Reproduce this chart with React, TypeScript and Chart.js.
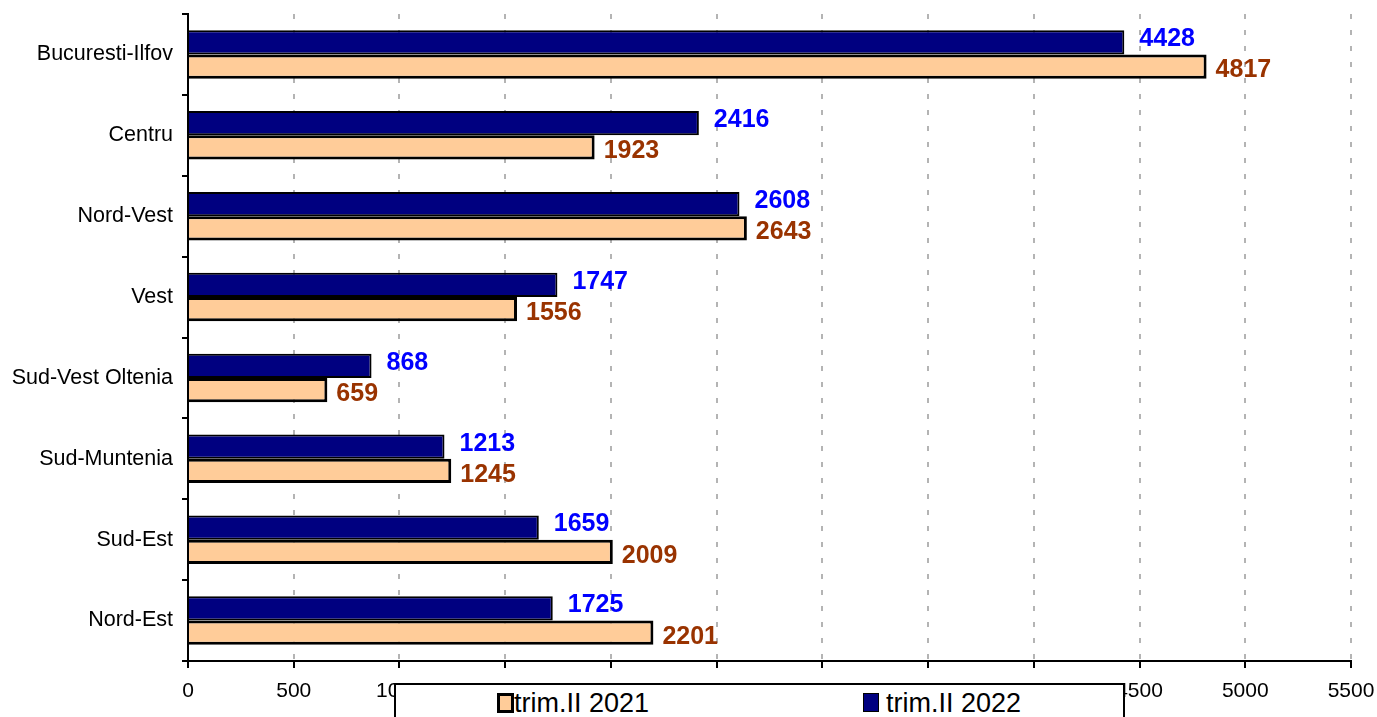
import React, { useEffect, useRef } from "react";
import { Chart, registerables } from "chart.js";
Chart.register(...registerables);

const categories = [
  "Bucuresti-Ilfov",
  "Centru",
  "Nord-Vest",
  "Vest",
  "Sud-Vest Oltenia",
  "Sud-Muntenia",
  "Sud-Est",
  "Nord-Est",
];
const values2022 = [4428, 2416, 2608, 1747, 868, 1213, 1659, 1725];
const values2021 = [4817, 1923, 2643, 1556, 659, 1245, 2009, 2201];
const seriesLabels = ["trim.II 2021", "trim.II 2022"];
const xMin = 0;
const xMax = 5500;
const xStep = 500;

const FONT = '"Liberation Sans", Arial, sans-serif';

const valueLabels = {
  id: "valueLabels",
  afterDatasetsDraw(chart: any) {
    const ctx = chart.ctx;
    chart.data.datasets.forEach((ds: any, i: number) => {
      const meta = chart.getDatasetMeta(i);
      ctx.save();
      ctx.font = `bold 25px ${FONT}`;
      ctx.fillStyle = ds.labelColor;
      ctx.textBaseline = "middle";
      ctx.textAlign = "left";
      meta.data.forEach((bar: any, j: number) => {
        ctx.fillText(String(ds.data[j]), bar.x + ds.labelDx, bar.y + ds.labelDy);
      });
      ctx.restore();
    });
  },
};

export default function App() {
  const ref = useRef<HTMLCanvasElement | null>(null);
  useEffect(() => {
    if (!ref.current) return;
    const chart = new Chart(ref.current, {
      type: "bar",
      data: {
        labels: categories,
        datasets: [
          {
            label: seriesLabels[1],
            data: values2022,
            backgroundColor: "#000080",
            borderColor: "#000000",
            borderWidth: 2,
            categoryPercentage: 0.6,
            barPercentage: 1.0,
            labelColor: "#0000FF",
            labelDx: 15,
            labelDy: -3,
          } as any,
          {
            label: seriesLabels[0],
            data: values2021,
            backgroundColor: "#FFCC99",
            borderColor: "#000000",
            borderWidth: 3,
            categoryPercentage: 0.6,
            barPercentage: 1.0,
            labelColor: "#993300",
            labelDx: 9,
            labelDy: 4,
          } as any,
        ],
      },
      options: {
        indexAxis: "y",
        responsive: false,
        animation: false,
        layout: { padding: { top: 14, right: 26, left: 0, bottom: 0 } },
        plugins: {
          legend: { display: false },
          tooltip: { enabled: false },
        },
        scales: {
          x: {
            type: "linear",
            min: xMin,
            max: xMax,
            ticks: {
              stepSize: xStep,
              color: "#000",
              font: { family: FONT, size: 21 },
              padding: 11,
              callback: (v: any) => String(v),
            },
            grid: {
              color: "#b4b4b4",
              lineWidth: 2,
              drawTicks: true,
              tickLength: 7,
              tickColor: "#000",
              tickWidth: 2,
              tickBorderDash: [],
            } as any,
            border: { display: true, color: "#000", width: 2, dash: [5, 11] },
            afterFit(scale: any) {
              scale.height = 56;
              scale.paddingLeft = 0;
              scale.paddingRight = 0;
            },
          },
          y: {
            type: "category",
            offset: true,
            ticks: {
              color: "#000",
              font: { family: FONT, size: 21.5 },
              padding: 9,
            },
            grid: {
              display: true,
              offset: true,
              drawOnChartArea: false,
              drawTicks: true,
              tickLength: 6,
              color: "#000",
              lineWidth: 2,
            },
            border: { display: true, color: "#000", width: 2 },
            afterFit(scale: any) {
              scale.width = 188;
              scale.paddingTop = 0;
              scale.paddingBottom = 0;
            },
          },
        },
      } as any,
      plugins: [valueLabels],
    });
    return () => chart.destroy();
  }, []);

  const legendText: React.CSSProperties = {
    position: "absolute",
    top: 3,
    fontFamily: FONT,
    fontSize: 27,
    lineHeight: "30px",
    color: "#000",
    whiteSpace: "nowrap",
  };

  return (
    <div
      style={{
        position: "fixed",
        left: 0,
        top: 0,
        width: 1377,
        height: 717,
        overflow: "hidden",
        background: "#fff",
      }}
    >
      <canvas ref={ref} width={1377} height={717} style={{ display: "block" }} />
      <div
        style={{
          position: "absolute",
          left: 394,
          top: 683,
          width: 731,
          height: 60,
          border: "2px solid #000",
          background: "#fff",
          boxSizing: "border-box",
        }}
      >
        <div
          style={{
            position: "absolute",
            left: 101,
            top: 8,
            width: 11,
            height: 14,
            background: "#FFCC99",
            border: "3px solid #000",
          }}
        />
        <div style={{ ...legendText, left: 118 }}>{seriesLabels[0]}</div>
        <div
          style={{
            position: "absolute",
            left: 467,
            top: 8,
            width: 14,
            height: 17,
            background: "#000080",
            border: "1.5px solid #000",
          }}
        />
        <div style={{ ...legendText, left: 490 }}>{seriesLabels[1]}</div>
      </div>
    </div>
  );
}
